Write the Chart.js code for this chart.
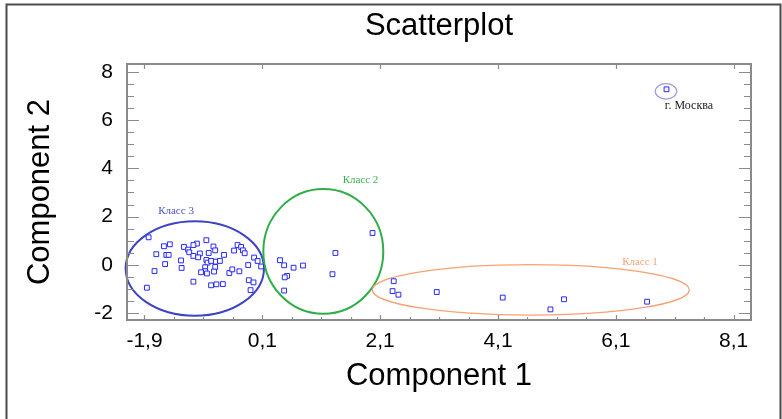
<!DOCTYPE html>
<html><head><meta charset="utf-8">
<script src="https://cdn.jsdelivr.net/npm/chart.js@4/dist/chart.umd.min.js"></script>
<style>html,body{margin:0;padding:0;background:#fff;}canvas{display:block;}</style>
</head><body>
<canvas id="c" width="782" height="419"></canvas>
<script>
// ---- text ----
const titleText = 'Scatterplot';
const xAxisTitle = 'Component 1';
const yAxisTitle = 'Component 2';

// ---- axis ticks ----
const xMajorTicks = [-1.9, 0.1, 2.1, 4.1, 6.1, 8.1];
const yMajorTicks = [-2, 0, 2, 4, 6, 8];
const minorStep = 0.5;
const xRange = [-2.197, 8.394];
const yRange = [-2.29, 8.33];

// ---- data: cluster "Класс 3" ----
const class3X = [-1.83,-1.57,-1.47,-1.70,-1.53,-1.49,-1.55,-1.73,-1.86,-1.23,-1.16,-1.14,-1.07,-1.01,-1.07,-0.85,-0.96,-0.99,-0.81,-0.73,-0.70,-0.55,-1.28,-1.27,-0.85,-0.83,-0.77,-0.69,-0.62,-0.87,-0.70,-0.72,-0.87,-0.94,-0.84,-1.07,-0.77,-0.68,-0.57,-0.46,-0.41,-0.29,-0.32,-0.38,-0.26,-0.23,-0.20,-0.14,-0.04,0.02,0.08,-0.13,-0.05,-0.10];
const class3Y = [1.14,0.77,0.85,0.44,0.41,0.41,0.03,-0.26,-0.95,0.74,0.63,0.52,0.37,0.88,0.82,1.02,0.47,0.31,0.49,0.76,0.60,0.41,0.18,-0.13,0.20,0.09,0.16,0.13,0.16,-0.10,-0.09,-0.28,-0.26,-0.31,-0.36,-0.70,-0.85,-0.81,-0.80,-0.34,-0.19,-0.27,0.82,0.59,0.74,0.60,0.48,-0.01,0.30,0.16,-0.07,-0.64,-0.73,-1.05];
// ---- data: cluster "Класс 2" ----
const class2X = [0.40,0.47,0.63,0.79,0.52,0.48,0.47,1.29,1.34,1.97];
const class2Y = [0.19,-0.02,-0.12,-0.03,-0.46,-0.52,-1.07,-0.39,0.49,1.32];
// ---- data: cluster "Класс 1" ----
const class1X = [2.33,2.31,2.41,3.06,4.18,5.22,4.99,6.63];
const class1Y = [-0.68,-1.09,-1.24,-1.13,-1.36,-1.43,-1.85,-1.53];
// ---- data: outlier ----
const moscowX = [6.96];
const moscowY = [7.28];

// ---- cluster outlines (data units) ----
const groupNames = ['Класс 3','Класс 2','Класс 1','г. Москва'];
const groupCX = [-1.046, 1.135, 4.656, 6.951];
const groupCY = [-0.153, 0.556, -1.041, 7.195];
const groupRX = [1.174, 1.018, 2.69, 0.182];
const groupRY = [1.959, 2.585, 1.046, 0.32];
const groupLabelX = [-1.365, 1.766, 6.51, 7.341];
const groupLabelY = [2.245, 3.53, 0.10, 6.614];
const groupColors = ['#3c44c4','#2fae48','#f6a272','#9a9ae6'];
const groupWidths = [2, 2, 1.3, 1.2];
const groupLabelColors = ['#4a52c8','#3cb054','#f3a275','#1a1a1a'];
const groupLabelSizes = [11, 11, 11, 12];

const pts = (xs, ys) => xs.map((x, i) => ({x: x, y: ys[i]}));
const fmtX = v => (Math.round(v * 10) / 10).toFixed(1).replace('.', ',');
const fmtY = v => String(Math.round(v));

const pointStyle = {
  pointStyle: 'rect', pointRadius: 3.4, pointBorderWidth: 1,
  pointBorderColor: '#2a2af0', pointBackgroundColor: 'rgba(255,255,255,0.9)',
  showLine: false
};

const AXIS = '#8a8a8a';

const decor = {
  id: 'decor',
  beforeDraw(chart) {
    const c = chart.ctx;
    c.save();
    c.fillStyle = '#fff';
    c.fillRect(0, 0, chart.width, chart.height);
    c.strokeStyle = '#4a4a4a';
    c.lineWidth = 2;
    c.beginPath();
    c.moveTo(6.5, 419); c.lineTo(6.5, 4.5); c.lineTo(780.5, 4.5); c.lineTo(780.5, 419);
    c.stroke();
    c.restore();
  },
  beforeDatasetsDraw(chart) {
    const c = chart.ctx, xs = chart.scales.x, ys = chart.scales.y;
    c.save();
    for (let i = 0; i < groupNames.length; i++) {
      const cx = xs.getPixelForValue(groupCX[i]);
      const cy = ys.getPixelForValue(groupCY[i]);
      const rx = Math.abs(xs.getPixelForValue(groupCX[i] + groupRX[i]) - cx);
      const ry = Math.abs(ys.getPixelForValue(groupCY[i] + groupRY[i]) - cy);
      c.strokeStyle = groupColors[i];
      c.lineWidth = groupWidths[i];
      c.beginPath();
      c.ellipse(cx, cy, rx, ry, 0, 0, Math.PI * 2);
      c.stroke();
      c.fillStyle = groupLabelColors[i];
      c.font = groupLabelSizes[i] + 'px "Liberation Serif"';
      c.textAlign = 'center';
      c.textBaseline = 'middle';
      c.fillText(groupNames[i], xs.getPixelForValue(groupLabelX[i]), ys.getPixelForValue(groupLabelY[i]));
    }
    c.restore();
  },
  afterDraw(chart) {
    const c = chart.ctx, a = chart.chartArea, xs = chart.scales.x, ys = chart.scales.y;
    c.save();
    c.strokeStyle = AXIS;
    c.lineWidth = 1.2;
    c.beginPath();
    const xMin = xMajorTicks[0];
    for (let v = xMin; v <= xRange[1] + 1e-9; v += minorStep) {
      const k = Math.round((v - xMin) / minorStep);
      const px = Math.round(xs.getPixelForValue(v)) + 0.5;
      const major = k % 4 === 0;
      c.moveTo(px, a.bottom); c.lineTo(px, a.bottom - (major ? 5 : 3));
      if (major) { c.moveTo(px, a.top); c.lineTo(px, a.top + 5); }
    }
    const yMin = yMajorTicks[0];
    for (let v = yMin; v <= yRange[1] + 1e-9; v += minorStep) {
      const k = Math.round((v - yMin) / minorStep);
      const py = Math.round(ys.getPixelForValue(v)) + 0.5;
      const len = k % 4 === 0 ? 12 : 7;
      c.moveTo(a.left, py); c.lineTo(a.left + len, py);
      c.moveTo(a.right, py); c.lineTo(a.right - len, py);
    }
    c.stroke();
    c.lineWidth = 2;
    c.strokeRect(a.left, a.top, a.right - a.left, a.bottom - a.top);
    c.fillStyle = '#000';
    c.font = '31px "Liberation Sans"';
    c.textAlign = 'center';
    c.textBaseline = 'middle';
    c.fillText(titleText, (a.left + a.right) / 2, 26);
    c.restore();
  }
};

new Chart(document.getElementById('c'), {
  type: 'scatter',
  data: {
    datasets: [
      Object.assign({label: groupNames[0], data: pts(class3X, class3Y)}, pointStyle),
      Object.assign({label: groupNames[1], data: pts(class2X, class2Y)}, pointStyle),
      Object.assign({label: groupNames[2], data: pts(class1X, class1Y)}, pointStyle),
      Object.assign({label: groupNames[3], data: pts(moscowX, moscowY)}, pointStyle)
    ]
  },
  options: {
    responsive: false,
    animation: false,
    layout: {padding: {left: 0, right: 31, top: 64, bottom: 0}},
    plugins: {legend: {display: false}, title: {display: false}, tooltip: {enabled: false}},
    scales: {
      x: {
        type: 'linear', min: xRange[0], max: xRange[1],
        afterBuildTicks: s => { s.ticks = xMajorTicks.map(v => ({value: v})); },
        afterFit: s => { s.height = 99; },
        ticks: {callback: v => fmtX(v), font: {family: 'Liberation Sans', size: 21}, color: '#000', padding: 9, maxRotation: 0, autoSkip: false},
        grid: {display: false, drawTicks: false},
        border: {display: false},
        title: {display: true, text: xAxisTitle, color: '#000', font: {family: 'Liberation Sans', size: 31}, padding: {top: 0, bottom: 24}}
      },
      y: {
        type: 'linear', min: yRange[0], max: yRange[1],
        afterBuildTicks: s => { s.ticks = yMajorTicks.map(v => ({value: v})); },
        afterFit: s => { s.width = 127; },
        ticks: {callback: v => fmtY(v), font: {family: 'Liberation Sans', size: 21}, color: '#000', padding: 14, autoSkip: false},
        grid: {display: false, drawTicks: false},
        border: {display: false},
        title: {display: true, text: yAxisTitle, color: '#000', font: {family: 'Liberation Sans', size: 31}, padding: {top: 22, bottom: 0}}
      }
    }
  },
  plugins: [decor]
});
</script>
</body></html>
